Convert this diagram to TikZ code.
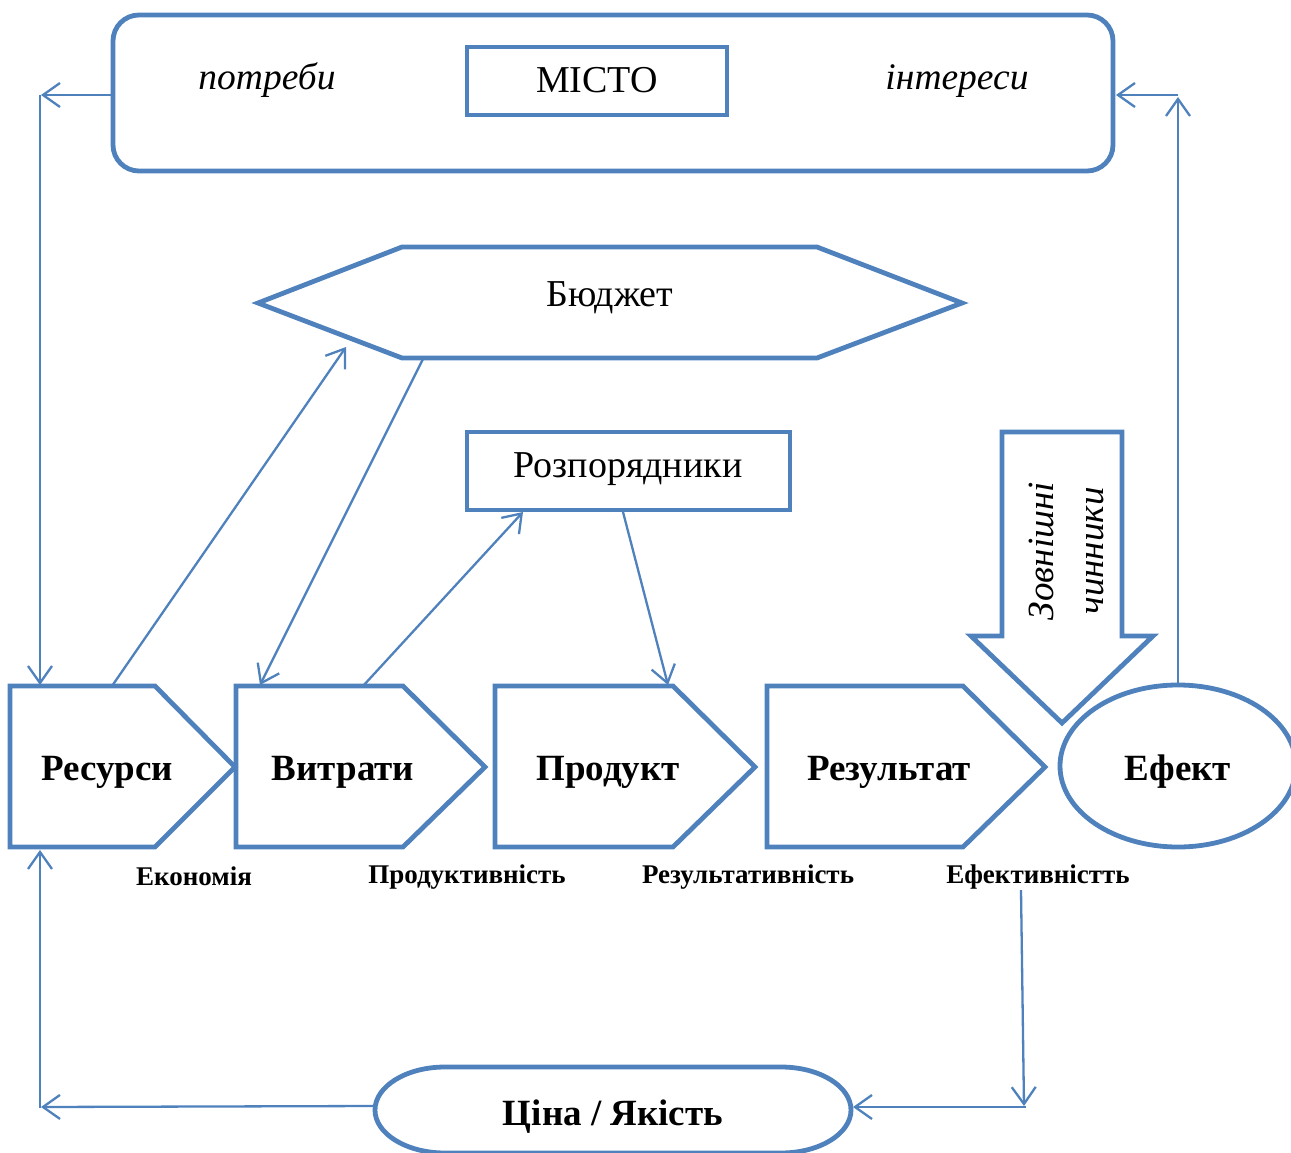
\documentclass[tikz,border=0pt]{standalone}
\usepackage{fontspec}
\setmainfont{Liberation Serif}
\usetikzlibrary{arrows.meta}
\definecolor{blu}{HTML}{4F81BD}
\begin{document}
\begin{tikzpicture}[x=1pt,y=-1pt,
  shp/.style={draw=blu, line width=4.8pt, line join=miter},
  conn/.style={draw=blu, line width=2.3pt, -{Straight Barb[length=17pt,width=24pt]}},
  big/.style={font=\fontsize{37}{42}\selectfont\bfseries, anchor=base, inner sep=0pt},
  reg/.style={font=\fontsize{38}{42}\selectfont, anchor=base, inner sep=0pt},
  ita/.style={font=\fontsize{37.5}{42}\selectfont\itshape, anchor=base, inner sep=0pt},
  small/.style={font=\fontsize{27}{31}\selectfont\bfseries, anchor=base, inner sep=0pt}]
\useasboundingbox (0,0) rectangle (1291,1153);

% ---- city box
\draw[shp, rounded corners=26pt] (113,15) rectangle (1113,171);
\draw[draw=blu, line width=4.2pt] (467,47) rectangle (727,115);
\node[reg] (city) at (597,93) {МІСТО};
\node[ita] (needs) at (267,90) {потреби};
\node[ita] (inter) at (957,90) {інтереси};

% ---- budget hexagon
\draw[shp] (258,303) -- (402,247) -- (817,247) -- (962,303) -- (817,358) -- (402,358) -- cycle;
\node[reg] (budget) at (610,306) {Бюджет};

% ---- managers box
\draw[draw=blu, line width=4.2pt] (467,432) rectangle (790,510);
\node[reg] (mgr) at (628,477) {Розпорядники};

% ---- chevrons
\draw[shp] (10,686) -- (155,686) -- (235,767) -- (155,847) -- (10,847) -- cycle;
\draw[shp] (236,686) -- (403,686) -- (485,767) -- (403,847) -- (236,847) -- cycle;
\draw[shp] (495,686) -- (673,686) -- (755,767) -- (673,847) -- (495,847) -- cycle;
\draw[shp] (767,686) -- (963,686) -- (1045,767) -- (963,847) -- (767,847) -- cycle;
\node[big] (res) at (107,780) {Ресурси};
\node[big] (cost) at (343,780) {Витрати};
\node[big] (prod) at (608,780) {Продукт};
\node[big] (rslt) at (889,780) {Результат};

% ---- effect ellipse
\draw[shp] (1178,766) ellipse [x radius=118pt, y radius=81pt];
\node[big] (eff) at (1178,780) {Ефект};

% ---- external factors arrow
\draw[shp] (1002,432) -- (1122,432) -- (1122,636) -- (1153,636) -- (1062,723) -- (971,636) -- (1002,636) -- cycle;
\node[font=\fontsize{37}{50}\selectfont\itshape, rotate=90, align=center, inner sep=0pt] (ext) at (1066,551) {Зовнішні\\чинники};

% ---- small labels
\node[small] (l1) at (194,885) {Економія};
\node[small] (l2) at (467,883) {Продуктивність};
\node[small] (l3) at (748,883) {Результативність};
\node[small] (l4) at (1038,883) {Ефективністть};

% ---- price / quality
\draw[shp] (445,1067) -- (781,1067) .. controls (819.7,1067) and (851,1086.3) .. (851,1110) .. controls (851,1133.7) and (819.7,1153) .. (781,1153) -- (445,1153) .. controls (406.3,1153) and (375,1133.7) .. (375,1110) .. controls (375,1086.3) and (406.3,1067) .. (445,1067) -- cycle;
\node[big] (pq) at (613,1125) {Ціна / Якість};

% ---- connector end points
\coordinate (cityL) at (113,95);
\coordinate (cityR) at (1116,95);
\coordinate (lTop) at (41,95);
\coordinate (lTopD) at (40,95);
\coordinate (resTop) at (40,685);
\coordinate (resBot) at (40,850);
\coordinate (lBot) at (41,1107);
\coordinate (lBotU) at (40,1108);
\coordinate (pqL) at (375,1106);
\coordinate (pqR) at (853,1107);
\coordinate (rBot) at (1024,1106);
\coordinate (rBotL) at (1026,1107);
\coordinate (effLab) at (1021,890);
\coordinate (effTop) at (1178,685);
\coordinate (rTop) at (1178,97);
\coordinate (rTopL) at (1178,95);
\coordinate (resA) at (112,686);
\coordinate (budA) at (346,347);
\coordinate (budB) at (423,359);
\coordinate (costA) at (260,685);
\coordinate (costB) at (363,686);
\coordinate (mgrA) at (523,512);
\coordinate (mgrB) at (623,512);
\coordinate (prodA) at (668,685);

% ---- connectors
\draw[conn] (cityL) -- (lTop);
\draw[conn] (lTopD) -- (resTop);
\draw[conn] (pqL) -- (lBot);
\draw[conn] (lBotU) -- (resBot);
\draw[conn] (effLab) -- (rBot);
\draw[conn] (rBotL) -- (pqR);
\draw[conn] (effTop) -- (rTop);
\draw[conn] (rTopL) -- (cityR);
\draw[conn] (resA) -- (budA);
\draw[conn] (budB) -- (costA);
\draw[conn] (costB) -- (mgrA);
\draw[conn] (mgrB) -- (prodA);
\end{tikzpicture}
\end{document}
